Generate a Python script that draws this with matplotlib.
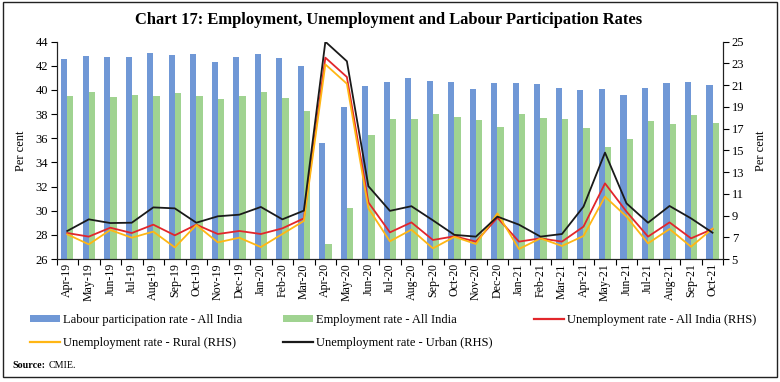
import numpy as np
import matplotlib
matplotlib.use("Agg")
import matplotlib.pyplot as plt
from matplotlib.patches import Patch, Rectangle
from matplotlib.lines import Line2D

plt.rcParams['font.family'] = ['Liberation Serif', 'DejaVu Serif']

months = ["Apr-19", "May-19", "Jun-19", "Jul-19", "Aug-19", "Sep-19", "Oct-19", "Nov-19",
          "Dec-19", "Jan-20", "Feb-20", "Mar-20", "Apr-20", "May-20", "Jun-20", "Jul-20",
          "Aug-20", "Sep-20", "Oct-20", "Nov-20", "Dec-20", "Jan-21", "Feb-21", "Mar-21",
          "Apr-21", "May-21", "Jun-21", "Jul-21", "Aug-21", "Sep-21", "Oct-21"]

lpr_all = [42.56, 42.81, 42.76, 42.73, 43.06, 42.88, 42.95, 42.34, 42.70, 42.95, 42.67, 41.96,
           35.63, 38.62, 40.33, 40.65, 40.97, 40.72, 40.64, 40.10, 40.58, 40.60, 40.47, 40.16,
           40.00, 40.05, 39.58, 40.16, 40.55, 40.69, 40.44]
emp_all = [39.47, 39.83, 39.39, 39.58, 39.53, 39.77, 39.47, 39.28, 39.47, 39.86, 39.33, 38.28,
           27.24, 30.25, 36.24, 37.63, 37.57, 38.01, 37.79, 37.51, 36.91, 37.98, 37.65, 37.57,
           36.82, 35.30, 35.97, 37.40, 37.15, 37.90, 37.29]
ur_all = [7.39, 7.06, 7.88, 7.39, 8.16, 7.18, 8.16, 7.30, 7.58, 7.30, 7.82, 8.74,
          23.53, 21.75, 10.21, 7.45, 8.37, 6.75, 7.09, 6.60, 8.80, 6.60, 6.90, 6.60,
          7.98, 11.96, 9.36, 7.06, 8.37, 6.90, 7.76]
ur_rural = [7.27, 6.35, 7.67, 6.96, 7.52, 6.07, 8.13, 6.53, 6.96, 6.10, 7.30, 8.50,
            22.91, 21.13, 9.66, 6.63, 7.70, 5.98, 7.04, 6.38, 9.20, 5.92, 6.90, 6.20,
            7.12, 10.74, 8.90, 6.44, 7.76, 6.13, 7.80]
ur_urban = [7.58, 8.65, 8.31, 8.34, 9.75, 9.66, 8.34, 8.93, 9.08, 9.79, 8.65, 9.45,
            25.00, 23.20, 11.70, 9.43, 9.86, 8.56, 7.22, 7.06, 8.90, 8.16, 7.06, 7.30,
            9.82, 14.79, 10.12, 8.34, 9.88, 8.74, 7.42]

left_ticks = list(range(26, 45, 2))
right_ticks = list(range(5, 26, 2))

c_blue = "#7098D6"
c_green = "#A0D391"
c_red = "#E2262B"
c_orange = "#FFB614"
c_black = "#1A1A1A"

W, H = 780, 382
fig = plt.figure(figsize=(W / 100, H / 100), dpi=100)
ax = fig.add_axes([56.5 / W, 1 - 259 / H, (723.3 - 56.5) / W, (259 - 41.7) / H])
ax2 = ax.twinx()

x = np.arange(len(months))
bw = 0.29
ax.bar(x - bw / 2, lpr_all, width=bw, color=c_blue, zorder=2)
ax.bar(x + bw / 2, emp_all, width=bw, color=c_green, zorder=2)
ax.set_ylim(26, 44)
ax.set_xlim(-0.5, len(months) - 0.5)
ax.set_yticks(left_ticks)
ax.set_xticks(x, labels=months, rotation=90)
ax.set_xticks(np.arange(-0.5, len(months), 1), minor=True)
ax.tick_params(axis='x', which='major', length=0, pad=3, labelsize=8.6)
ax.tick_params(axis='x', which='minor', length=4, width=0.8, direction='out')
ax.tick_params(axis='y', length=4, width=0.8, labelsize=9, pad=2)

lw = 1.3
ax2.plot(x, ur_all, color=c_red, lw=lw, zorder=3)
ax2.plot(x, ur_rural, color=c_orange, lw=lw, zorder=3)
ax2.plot(x, ur_urban, color=c_black, lw=lw, zorder=4)
ax2.set_ylim(5, 25)
ax2.set_yticks(right_ticks)
ax2.tick_params(axis='y', length=4, width=0.8, labelsize=9, pad=2)

for a in (ax, ax2):
    a.spines['top'].set_visible(False)
    for s in ('left', 'right', 'bottom'):
        a.spines[s].set_linewidth(0.8)
        a.spines[s].set_color('#222222')

ax.set_ylabel("Per cent", fontsize=9, labelpad=6)
ax2.set_ylabel("Per cent", fontsize=9, rotation=90, labelpad=8)

fig.text(389 / W, 1 - 19.5 / H, "Chart 17: Employment, Unemployment and Labour Participation Rates",
         ha='center', va='center', fontsize=11.9, fontweight='bold')

# legend (three columns placed like the reference)
h_lpr = Patch(facecolor=c_blue, edgecolor='none')
h_emp = Patch(facecolor=c_green, edgecolor='none')
h_all = Line2D([], [], color=c_red, lw=1.6)
h_rur = Line2D([], [], color=c_orange, lw=1.6)
h_urb = Line2D([], [], color=c_black, lw=1.6)
cols = [
    (30, [h_lpr, h_rur], ["Labour participation rate - All India", "Unemployment rate - Rural (RHS)"]),
    (282.5, [h_emp, h_urb], ["Employment rate - All India", "Unemployment rate - Urban (RHS)"]),
    (534, [h_all], ["Unemployment rate - All India (RHS)"]),
]
for xpx, hs, ls in cols:
    fig.legend(hs, ls, loc='upper left', bbox_to_anchor=(xpx / W, 1 - 314 / H),
               frameon=False, fontsize=9, handlelength=2.4, handleheight=0.55,
               handletextpad=0.25, borderpad=0, borderaxespad=0, labelspacing=0.9)

fig.text(12.5 / W, 1 - 366 / H, "Source:", fontsize=7.2, fontweight='bold', va='center', ha='left')
fig.text(48.5 / W, 1 - 366 / H, "CMIE.", fontsize=7.2, va='center', ha='left')

fig.add_artist(Rectangle((2.5 / W, 5.3 / H), (776.7 - 2.5) / W, (380.3 - 5.3) / H,
                         transform=fig.transFigure, fill=False, edgecolor='#222222', lw=1.0))

fig.savefig("out.png", dpi=100)
